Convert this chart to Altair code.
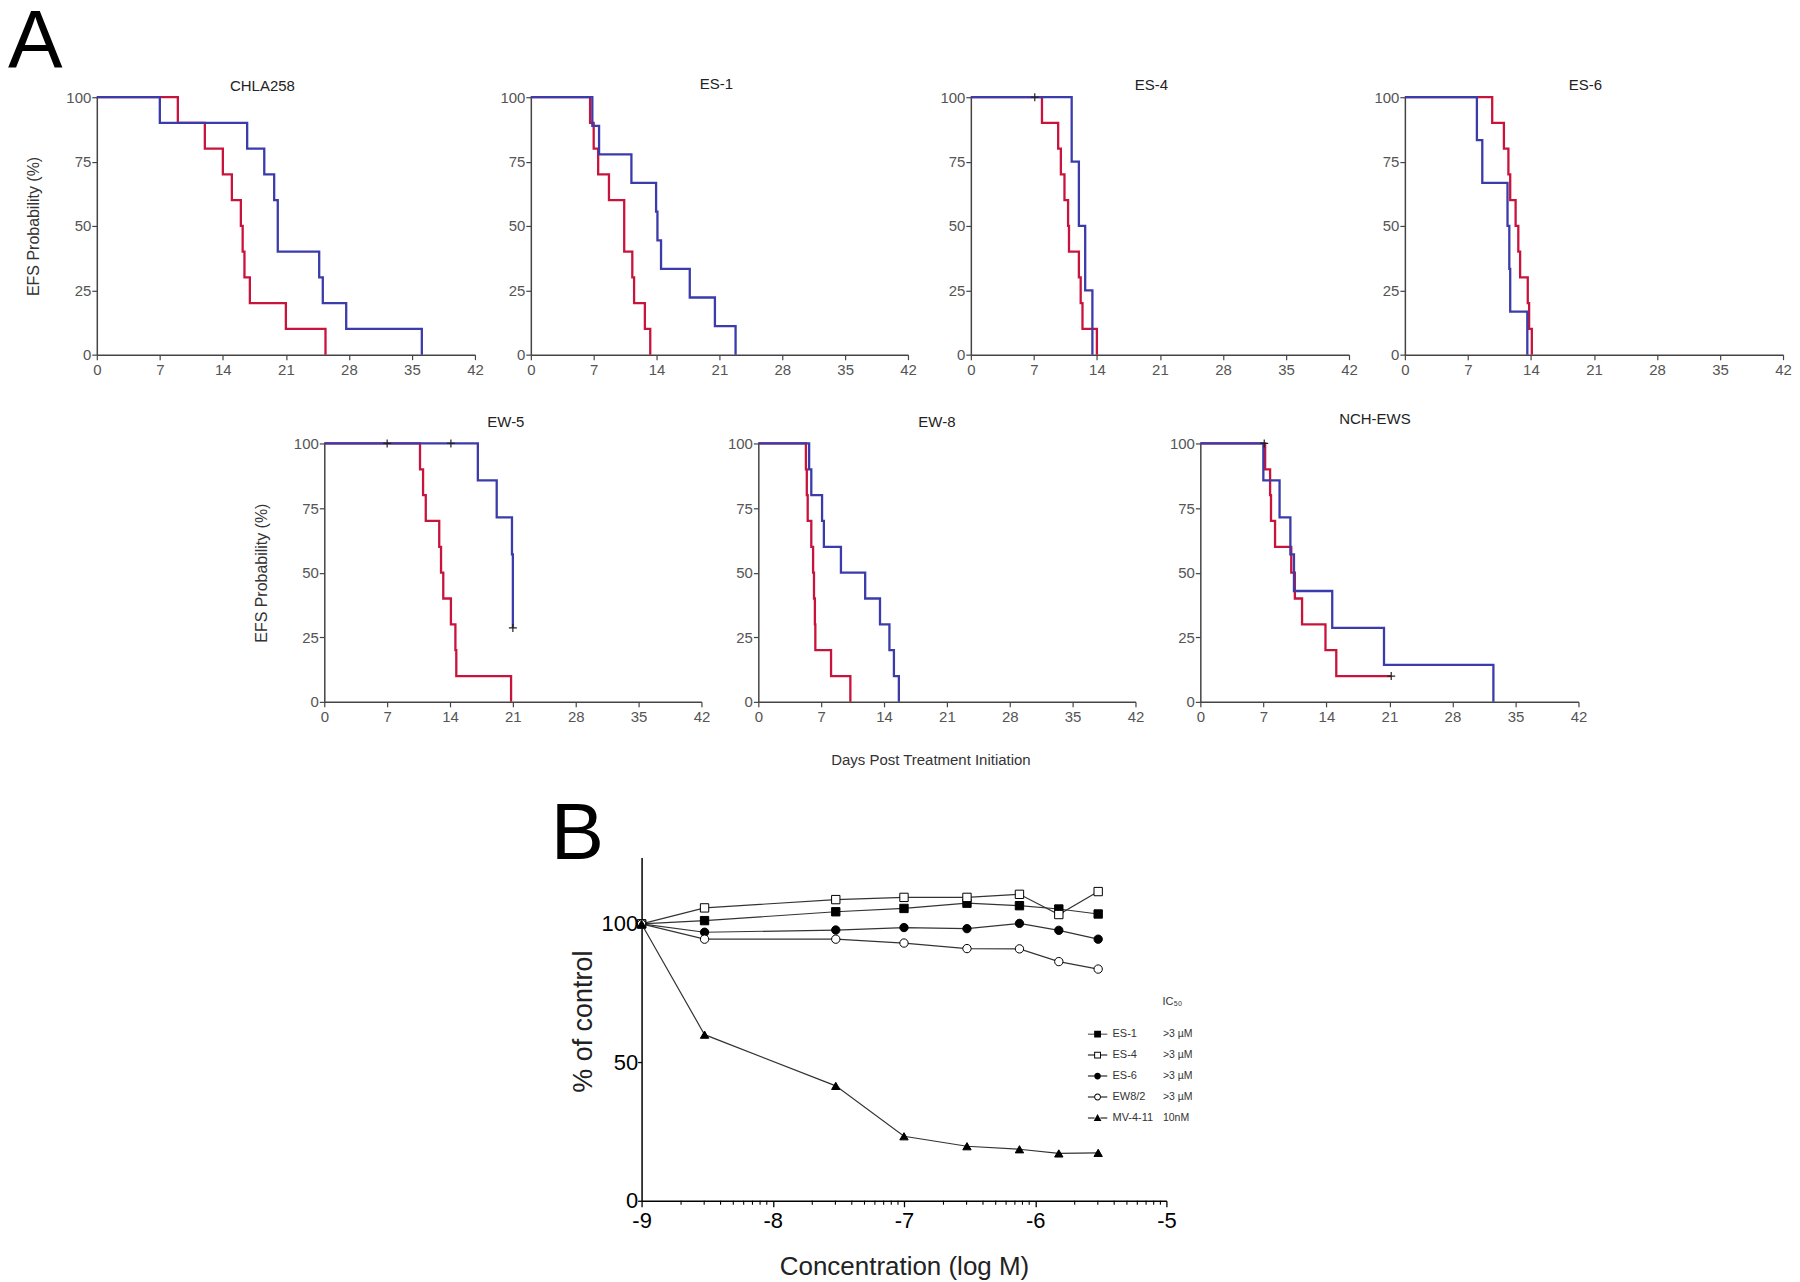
import altair as alt
import pandas as pd
import numpy as np

FONT = "Liberation Sans"
RED = "#C8143C"
BLUE = "#3B3BAB"
AXIS_GRAY = "#444444"
LABEL_GRAY = "#555555"
CROSS = "M-1,0H1M0,-1V1"

# ---------------- Panel A: Kaplan-Meier step points (day, EFS %) ----------------
KM_X_TICKS = [0, 7, 14, 21, 28, 35, 42]
KM_Y_TICKS = [0, 25, 50, 75, 100]

CHLA258_RED_T = [9.0, 12.0, 14.0, 15.0, 16.0, 16.2, 16.4, 17.0, 21.0, 25.4]
CHLA258_RED_S = [90, 80, 70, 60, 50, 40, 30, 20, 10, 0]
CHLA258_BLUE_T = [7.0, 16.7, 18.6, 19.7, 20.1, 24.7, 25.1, 27.7, 36.1]
CHLA258_BLUE_S = [90, 80, 70, 60, 40, 30, 20, 10, 0]
CHLA258_CENS_T = []
CHLA258_CENS_S = []

ES1_RED_T = [6.6, 7.0, 7.5, 8.7, 10.4, 11.3, 11.5, 12.7, 13.3]
ES1_RED_S = [90, 80, 70, 60, 40, 30, 20, 10, 0]
ES1_BLUE_T = [6.85, 7.6, 11.2, 13.95, 14.1, 14.5, 17.7, 20.5, 22.8]
ES1_BLUE_S = [88.9, 77.8, 66.7, 55.6, 44.4, 33.3, 22.2, 11.1, 0]
ES1_CENS_T = []
ES1_CENS_S = []

ES4_RED_T = [7.9, 9.7, 10.0, 10.4, 10.8, 10.9, 12.0, 12.2, 12.4, 14.0]
ES4_RED_S = [90, 80, 70, 60, 50, 40, 30, 20, 10, 0]
ES4_BLUE_T = [11.2, 12.0, 12.7, 13.5]
ES4_BLUE_S = [75, 50, 25, 0]
ES4_CENS_T = [7.1]
ES4_CENS_S = [100]

ES6_RED_T = [9.7, 11.0, 11.5, 11.7, 12.3, 12.6, 12.8, 13.65, 13.8, 14.1]
ES6_RED_S = [90, 80, 70, 60, 50, 40, 30, 20, 10, 0]
ES6_BLUE_T = [8.0, 8.6, 11.4, 11.6, 11.7, 13.6]
ES6_BLUE_S = [83.3, 66.7, 50, 33.3, 16.7, 0]
ES6_CENS_T = []
ES6_CENS_S = []

EW5_RED_T = [10.66, 11.0, 11.3, 12.8, 13.0, 13.25, 14.1, 14.6, 14.7, 20.8]
EW5_RED_S = [90, 80, 70, 60, 50, 40, 30, 20, 10, 0]
EW5_BLUE_T = [17.1, 19.2, 20.9, 21.0]
EW5_BLUE_S = [85.7, 71.4, 57.1, 28.6]
EW5_CENS_T = [7.0, 14.1, 21.0]
EW5_CENS_S = [100, 100, 28.6]

EW8_RED_T = [5.3, 5.4, 5.5, 5.9, 6.1, 6.2, 6.3, 6.35, 8.1, 10.25]
EW8_RED_S = [90, 80, 70, 60, 50, 40, 30, 20, 10, 0]
EW8_BLUE_T = [5.66, 5.9, 7.1, 7.3, 9.2, 11.9, 13.55, 14.6, 15.1, 15.65]
EW8_BLUE_S = [90, 80, 70, 60, 50, 40, 30, 20, 10, 0]
EW8_CENS_T = []
EW8_CENS_S = []

NCH_RED_T = [7.2, 7.75, 7.85, 8.3, 10.1, 10.5, 11.3, 13.9, 15.1, 21.2]
NCH_RED_S = [90, 80, 70, 60, 50, 40, 30, 20, 10, 10]
NCH_BLUE_T = [7.0, 8.8, 10.0, 10.4, 14.65, 20.4, 32.55]
NCH_BLUE_S = [85.7, 71.4, 57.1, 42.9, 28.6, 14.3, 0]
NCH_CENS_T = [7.1, 21.2]
NCH_CENS_S = [100, 10]

# ---------------- Panel B: viability data ----------------
CONC_LOG = [-9.0, -8.52, -7.52, -7.0, -6.52, -6.12, -5.82, -5.52]
ES1_PCT = [100, 101.2, 104.4, 105.6, 107.5, 106.6, 105.4, 103.6]
ES4_PCT = [100, 105.8, 108.8, 109.6, 109.6, 110.7, 103.4, 111.7]
ES6_PCT = [100, 97.0, 97.8, 98.7, 98.3, 100.2, 97.7, 94.5]
EW82_PCT = [100, 94.5, 94.5, 93.1, 91.1, 91.0, 86.4, 83.7]
MV411_PCT = [100, 60.0, 41.5, 23.3, 19.7, 18.6, 17.1, 17.3]
CELLS = ["ES-1", "ES-4", "ES-6", "EW8/2", "MV-4-11"]
IC50 = [">3 µM", ">3 µM", ">3 µM", ">3 µM", "10nM"]
B_X_MAJOR = [-9, -8, -7, -6, -5]
B_Y_TICKS = [0, 50, 100]

# ---------------- styles ----------------
CELL_SHAPES = ["square", "square", "circle", "circle", "triangle-up"]
CELL_FILLS = ["black", "white", "black", "white", "black"]
SEG = "M-1,-0.05H-0.35V0.05H-1Z M0.35,-0.05H1V0.05H0.35Z "
SEG_T = "M-1,-0.05H-0.3V0.05H-1Z M0.3,-0.05H1V0.05H0.3Z "
SQ_OUT = "M-0.35,-0.35H0.35V0.35H-0.35Z "
SQ_IN = "M-0.25,-0.25V0.25H0.25V-0.25Z "
CI_OUT = "M-0.35,0A0.35,0.35 0 1,1 0.35,0A0.35,0.35 0 1,1 -0.35,0Z "
CI_IN = "M-0.25,0A0.25,0.25 0 1,0 0.25,0A0.25,0.25 0 1,0 -0.25,0Z "
TRI = "M0,-0.4L0.4,0.32L-0.4,0.32Z"
LEG_PATHS = [SEG + SQ_OUT, SEG + SQ_OUT + SQ_IN, SEG + CI_OUT, SEG + CI_OUT + CI_IN, SEG_T + TRI]

# panel layout: width, height, title x, title baseline y (pixels relative to plot)
LAY = {
    "CHLA258": (379, 258, 166, -6),
    "ES-1": (378, 258, 186, -8),
    "ES-4": (379, 258, 181, -7),
    "ES-6": (379, 258, 181, -7),
    "EW-5": (378, 259, 182, -16),
    "EW-8": (378, 259, 179, -16),
    "NCH-EWS": (379, 259, 175, -19),
}


def text_layer(txt, x, y, size, align="center", color="#222222"):
    return alt.Chart(pd.DataFrame({"t": [txt]})).mark_text(
        align=align, baseline="alphabetic", fontSize=size, font=FONT, color=color
    ).encode(text="t:N", x=alt.value(x), y=alt.value(y))


def ghost(x, y):
    # invisible anchor point that fixes the layout bounds of a row
    return alt.Chart(pd.DataFrame({"g": [0]})).mark_point(
        size=1, opacity=0, filled=True, strokeWidth=0
    ).encode(x=alt.value(x), y=alt.value(y))


def km_frame(t_list, s_list):
    days = [0.0] + list(t_list)
    efs = [100.0] + list(s_list)
    return pd.DataFrame({"day": days, "efs": efs, "ord": list(range(len(days)))})


def km_panel(name, red_t, red_s, blue_t, blue_s, cens_t, cens_s, ytitle=False, extra=()):
    w, h, tx, ty = LAY[name]
    xs = alt.Scale(domain=[0, 42], nice=False, zero=False)
    ys = alt.Scale(domain=[0, 100], nice=False)
    xaxis = alt.Axis(values=KM_X_TICKS, labelFontSize=15, labelFont=FONT, labelColor=LABEL_GRAY,
                     tickSize=5, tickColor=AXIS_GRAY, tickWidth=1.2, domainColor=AXIS_GRAY,
                     domainWidth=1.5, labelPadding=3, grid=False, labelFlush=False,
                     labelOverlap=False, title=None)
    yaxis_kw = dict(values=KM_Y_TICKS, labelFontSize=15, labelFont=FONT, labelColor=LABEL_GRAY,
                    tickSize=5, tickColor=AXIS_GRAY, tickWidth=1.2, domainColor=AXIS_GRAY,
                    domainWidth=1.5, labelPadding=1, grid=False, labelOverlap=False,
                    title="EFS Probability (%)" if ytitle else None)
    if ytitle:
        yaxis_kw.update(titleFontSize=16, titleFont=FONT, titleFontWeight="normal",
                        titleColor="#333333", titlePadding=24)
    yaxis = alt.Axis(**yaxis_kw)
    X = alt.X("day:Q", scale=xs, axis=xaxis)
    Y = alt.Y("efs:Q", scale=ys, axis=yaxis)
    layers = []
    for df, col in ((km_frame(red_t, red_s), RED), (km_frame(blue_t, blue_s), BLUE)):
        layers.append(
            alt.Chart(df).mark_line(interpolate="step-after", color=col, strokeWidth=2.3)
            .encode(x=X, y=Y, order="ord:Q")
        )
    if cens_t:
        cdf = pd.DataFrame({"day": cens_t, "efs": cens_s})
        layers.append(
            alt.Chart(cdf).mark_point(shape=CROSS, size=64, filled=False, stroke="#222222",
                                      strokeWidth=1.2, opacity=1)
            .encode(x=X, y=Y)
        )
    layers.append(text_layer(name, tx, ty, 15))
    layers.extend(extra)
    return alt.layer(*layers).properties(width=w, height=h)


def spacer(w, h=10, extra=()):
    base = alt.Chart(pd.DataFrame({"v": [0]})).mark_point(opacity=0, size=1, filled=True, strokeWidth=0).encode(
        x=alt.X("v:Q", axis=None, scale=alt.Scale(domain=[0, 1])),
        y=alt.Y("v:Q", axis=None, scale=alt.Scale(domain=[0, 1])),
    )
    return alt.layer(base, *extra).properties(width=w, height=h)


chla = km_panel("CHLA258", CHLA258_RED_T, CHLA258_RED_S, CHLA258_BLUE_T, CHLA258_BLUE_S,
                CHLA258_CENS_T, CHLA258_CENS_S, ytitle=True,
                extra=(text_layer("A", -89, -30, 82, align="left", color="black"), ghost(0, 300)))
es1 = km_panel("ES-1", ES1_RED_T, ES1_RED_S, ES1_BLUE_T, ES1_BLUE_S, ES1_CENS_T, ES1_CENS_S)
es4 = km_panel("ES-4", ES4_RED_T, ES4_RED_S, ES4_BLUE_T, ES4_BLUE_S, ES4_CENS_T, ES4_CENS_S)
es6 = km_panel("ES-6", ES6_RED_T, ES6_RED_S, ES6_BLUE_T, ES6_BLUE_S, ES6_CENS_T, ES6_CENS_S)
ew5 = km_panel("EW-5", EW5_RED_T, EW5_RED_S, EW5_BLUE_T, EW5_BLUE_S, EW5_CENS_T, EW5_CENS_S, ytitle=True)
ew8 = km_panel("EW-8", EW8_RED_T, EW8_RED_S, EW8_BLUE_T, EW8_BLUE_S, EW8_CENS_T, EW8_CENS_S,
               extra=(text_layer("Days Post Treatment Initiation", 173, 322, 15, color="#333333"),))
nch = km_panel("NCH-EWS", NCH_RED_T, NCH_RED_S, NCH_BLUE_T, NCH_BLUE_S, NCH_CENS_T, NCH_CENS_S)

# ---------------- Panel B chart ----------------
rows = []
for cell, vals in zip(CELLS, [ES1_PCT, ES4_PCT, ES6_PCT, EW82_PCT, MV411_PCT]):
    for c, v in zip(CONC_LOG, vals):
        rows.append({"conc": c, "pct": v, "cell": cell})
bdf = pd.DataFrame(rows)

minor = [m + float(np.log10(k)) for m in B_X_MAJOR[:-1] for k in range(2, 10)]
minor_df = pd.DataFrame({"conc": minor, "pct": [0.0] * len(minor)})

bxaxis = alt.Axis(values=B_X_MAJOR, labelExpr="'' + datum.value", labelFontSize=22, labelFont=FONT,
                  labelColor="black", tickSize=6, tickColor="black", tickWidth=1.3,
                  domainColor="black", domainWidth=1.5, labelPadding=4, grid=False,
                  labelFlush=False, labelOverlap=False, title="Concentration (log M)",
                  titleFontSize=26, titleFont=FONT, titleFontWeight="normal", titleColor="#222222",
                  titlePadding=22)
byaxis = alt.Axis(values=B_Y_TICKS, labelFontSize=22, labelFont=FONT, labelColor="black",
                  tickSize=4, tickColor="black", tickWidth=1.3, domainColor="black",
                  domainWidth=1.5, labelPadding=0, grid=False, labelOverlap=False,
                  title="% of control", titleFontSize=27, titleFont=FONT,
                  titleFontWeight="normal", titleColor="#222222", titlePadding=3, titleY=164)
BX = alt.X("conc:Q", scale=alt.Scale(domain=[-9, -5], nice=False, zero=False), axis=bxaxis)
BY = alt.Y("pct:Q", scale=alt.Scale(domain=[0, 124], nice=False, zero=True), axis=byaxis)

b_lines = alt.Chart(bdf).mark_line(color="#333333", strokeWidth=1.2).encode(x=BX, y=BY, detail="cell:N")
b_points = alt.Chart(bdf).mark_point(filled=True, stroke="black", strokeWidth=1, size=70, opacity=1).encode(
    x=BX, y=BY,
    shape=alt.Shape("cell:N", scale=alt.Scale(domain=CELLS, range=CELL_SHAPES), legend=None),
    fill=alt.Fill("cell:N", scale=alt.Scale(domain=CELLS, range=CELL_FILLS), legend=None),
)
b_minor = alt.Chart(minor_df).mark_tick(orient="vertical", size=4, thickness=1.1, color="black",
                                        yOffset=2, opacity=1).encode(x=BX, y=BY)

legdf = pd.DataFrame({"lcell": CELLS, "key": [c + "_ic50" for c in CELLS], "ic50": IC50})
b_leg1 = alt.Chart(legdf).mark_point(filled=True, color="black", opacity=0).encode(
    shape=alt.Shape(
        "lcell:N", scale=alt.Scale(domain=CELLS, range=LEG_PATHS),
        legend=alt.Legend(orient="none", legendX=447, legendY=167, title=None, symbolSize=380,
                          symbolFillColor="black", symbolStrokeWidth=0, symbolOpacity=1,
                          labelFontSize=11, labelFont=FONT, labelColor="#333333", labelOffset=5,
                          rowPadding=1, padding=0, clipHeight=20),
    ),
)
keys = list(legdf["key"])
expr = ""
for k, v in zip(keys, IC50):
    expr += "datum.label == '" + k + "' ? '" + v + "' : "
expr += "''"
b_leg2 = alt.Chart(legdf).mark_point(opacity=0).encode(
    strokeDash=alt.StrokeDash(
        "key:N", scale=alt.Scale(domain=keys),
        legend=alt.Legend(orient="none", legendX=512, legendY=139, title="IC₅₀", titleFontSize=11,
                          titleFont=FONT, titleFontWeight="normal", titleColor="#333333",
                          titleAnchor="middle",
                          titlePadding=17, symbolType="square", symbolSize=4, symbolOpacity=0,
                          labelOffset=0, labelExpr=expr, labelFontSize=10.5, labelFont=FONT,
                          labelColor="#333333", rowPadding=1, padding=0, clipHeight=20),
    )
)
b_label = text_layer("B", -91, 1, 80, align="left", color="black")

bchart = alt.layer(b_lines, b_points, b_minor, b_leg1, b_leg2, b_label, ghost(0, -70)).resolve_scale(
    shape="independent", fill="independent", strokeDash="independent"
).properties(width=526, height=344)

row1 = alt.hconcat(chla, spacer(56), es1, spacer(63), es4, spacer(56), es6, spacing=0, bounds="flush")
row2 = alt.hconcat(spacer(228, 340, extra=(ghost(0, -42),)), ew5, spacer(57), ew8, spacer(65), nch,
                   spacing=0, bounds="flush")
row3 = alt.hconcat(spacer(546), bchart, spacing=0, bounds="flush")

chart = alt.vconcat(row1, row2, row3, spacing=3, bounds="full").properties(
    padding={"top": -8, "left": 0, "right": 0, "bottom": 0}
).configure(font=FONT).configure_view(stroke=None)

chart.save("out.html", embed_options={"renderer": "svg", "actions": False})
